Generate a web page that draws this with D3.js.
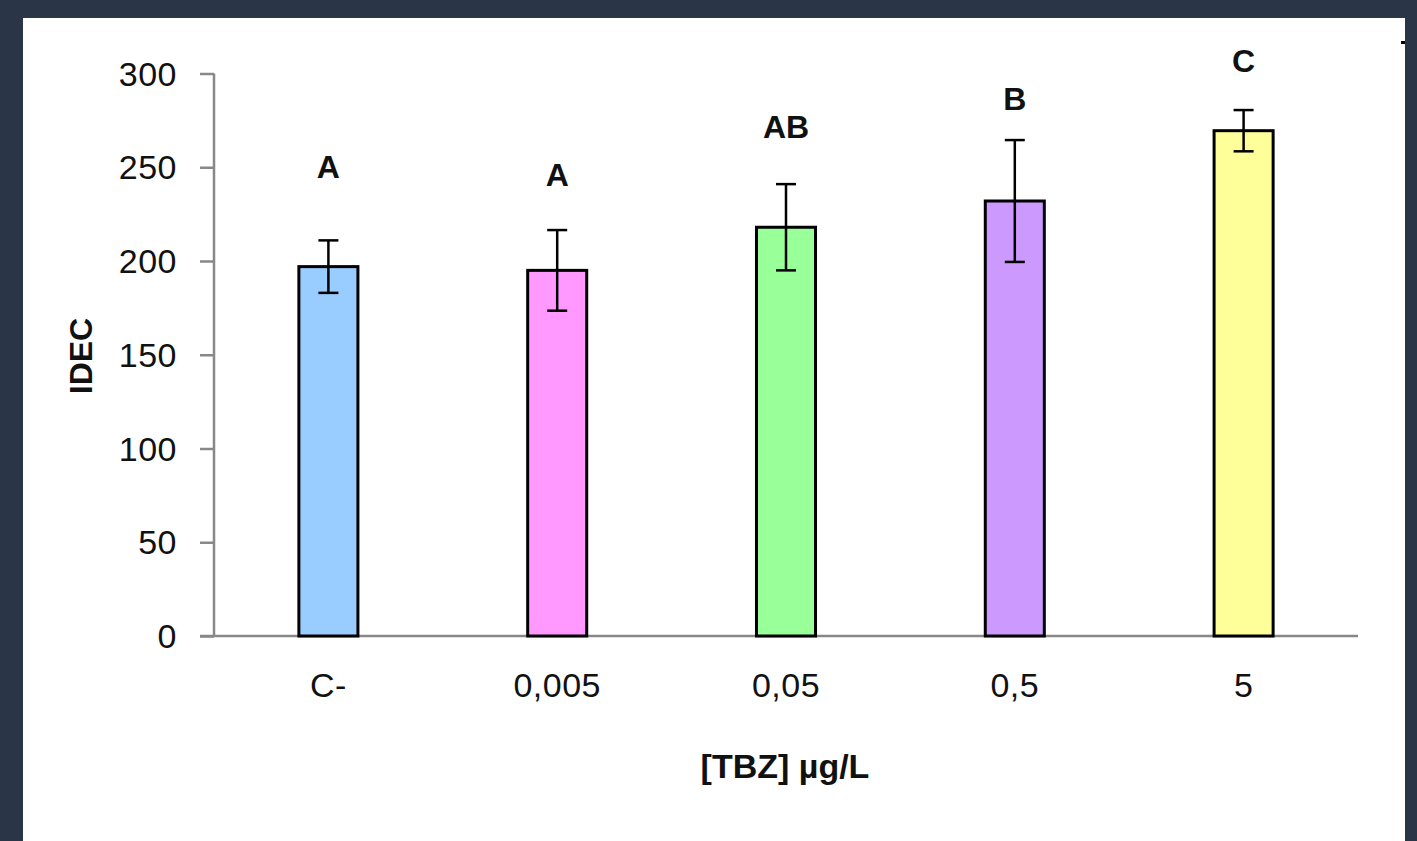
<!DOCTYPE html>
<html>
<head>
<meta charset="utf-8">
<script src="https://cdn.jsdelivr.net/npm/d3@7/dist/d3.min.js"></script>
<style>
  html, body { margin: 0; padding: 0; background: #2b3548; }
  svg { display: block; }
</style>
</head>
<body>
<svg id="chart" width="1417" height="841"></svg>
<script>
// ---- data ----
const categories = ["C-", "0,005", "0,05", "0,5", "5"];
const means = [197, 195, 218, 232, 269.5];
const errors = [14, 21.5, 23, 32.5, 11];
const letters = ["A", "A", "AB", "B", "C"];
const letterAt = [250.5, 246, 272, 286.5, 307]; // data-unit height of letter annotations
const yTicks = [0, 50, 100, 150, 200, 250, 300];
const colors = ["#99ccff", "#ff99ff", "#99ff99", "#cc99ff", "#ffff99"];
const yTitle = "IDEC";
const xTitle = "[TBZ] µg/L";

// ---- layout ----
const svg = d3.select("#chart");
const W = 1417, H = 841;
const font = "'Liberation Sans', Arial, sans-serif";

svg.append("rect").attr("x", 0).attr("y", 0).attr("width", W).attr("height", H).attr("fill", "#2b3548");
svg.append("rect").attr("x", 23).attr("y", 18).attr("width", 1382).attr("height", H - 18).attr("fill", "#ffffff");
svg.append("rect").attr("x", 1401).attr("y", 41).attr("width", 4).attr("height", 3).attr("fill", "#000");

const x = d3.scaleBand().domain(categories).range([214, 1358]).paddingInner(0.742).paddingOuter(0.371);
const y = d3.scaleLinear().domain([0, 300]).range([636, 73.5]);

// y axis
const yAxis = svg.append("g").attr("transform", "translate(214,0)")
  .call(d3.axisLeft(y).tickValues(yTicks).tickSize(14).tickPadding(23));
yAxis.select(".domain").attr("stroke", "#888").attr("stroke-width", 2.5).attr("d", `M0,${y(300)}V${y(0)}`);
yAxis.selectAll(".tick line").attr("stroke", "#888").attr("stroke-width", 2.5);
yAxis.selectAll(".tick text").attr("font-family", font).attr("font-size", 34).attr("fill", "#111")
  .attr("dy", "0.34em").attr("letter-spacing", 0.5);

// x axis
const xAxis = svg.append("g").attr("transform", `translate(0,${y(0)})`)
  .call(d3.axisBottom(x).tickSize(0).tickPadding(37));
xAxis.select(".domain").attr("stroke", "#888").attr("stroke-width", 2.5).attr("d", `M200,0H1358`);
xAxis.selectAll(".tick text").attr("font-family", font).attr("font-size", 34).attr("fill", "#111")
  .attr("letter-spacing", 0.5);

// bars
svg.append("g").selectAll("rect").data(categories).join("rect")
  .attr("x", d => x(d))
  .attr("y", (d, i) => y(means[i]))
  .attr("width", x.bandwidth())
  .attr("height", (d, i) => y(0) - y(means[i]))
  .attr("fill", (d, i) => colors[i])
  .attr("stroke", "#000").attr("stroke-width", 3);

// error bars
const eb = svg.append("g").attr("stroke", "#000").attr("stroke-width", 2.5);
categories.forEach((c, i) => {
  const cx = x(c) + x.bandwidth() / 2;
  const top = y(means[i] + errors[i]), bot = y(means[i] - errors[i]);
  eb.append("line").attr("x1", cx).attr("x2", cx).attr("y1", top).attr("y2", bot);
  eb.append("line").attr("x1", cx - 10).attr("x2", cx + 10).attr("y1", top).attr("y2", top);
  eb.append("line").attr("x1", cx - 10).attr("x2", cx + 10).attr("y1", bot).attr("y2", bot);
});

// letters
svg.append("g").selectAll("text").data(categories).join("text")
  .attr("x", d => x(d) + x.bandwidth() / 2)
  .attr("y", (d, i) => y(letterAt[i]))
  .attr("dy", "0.36em")
  .attr("text-anchor", "middle")
  .attr("font-family", font).attr("font-weight", "bold").attr("font-size", 32).attr("fill", "#111")
  .text((d, i) => letters[i]);

// axis titles
svg.append("text").attr("transform", "translate(80,356) rotate(-90)")
  .attr("text-anchor", "middle").attr("dy", "0.36em")
  .attr("font-family", font).attr("font-weight", "bold").attr("font-size", 32).attr("fill", "#111")
  .text(yTitle);
svg.append("text").attr("x", 785).attr("y", 778)
  .attr("text-anchor", "middle")
  .attr("font-family", font).attr("font-weight", "bold").attr("font-size", 34).attr("fill", "#111")
  .text(xTitle);
</script>
</body>
</html>
